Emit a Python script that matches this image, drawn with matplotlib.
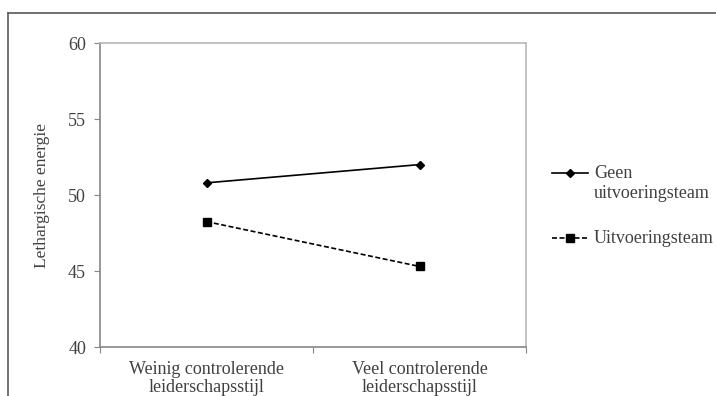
import matplotlib
matplotlib.use("Agg")
import matplotlib.pyplot as plt
from matplotlib.lines import Line2D

categories = ["Weinig controlerende\nleiderschapsstijl", "Veel controlerende\nleiderschapsstijl"]
geen_team = [50.8, 52.0]
met_team = [48.25, 45.3]
series_labels = ["Geen\nuitvoeringsteam", "Uitvoeringsteam"]
y_ticks = [40, 45, 50, 55, 60]

plt.rcParams["font.family"] = ["Liberation Serif", "DejaVu Serif"]
text_col = "#404040"
axis_col = "#868686"
W, H = 716, 396

fig = plt.figure(figsize=(7.16, 3.96), dpi=100)

# page frame (screenshot border)
fig.add_artist(Line2D([8 / W, 8 / W], [0, 1 - 13 / H], transform=fig.transFigure,
                      color="#595959", lw=1.2))
fig.add_artist(Line2D([8 / W, 1], [1 - 13 / H, 1 - 13 / H], transform=fig.transFigure,
                      color="#595959", lw=1.2))

ax = fig.add_axes([100 / W, 49 / H, 426 / W, 304 / H])
xs = [0.5, 1.5]
line_styles = [dict(color="black", lw=1.2, ls="-"),
               dict(color="black", lw=1.2, ls=(0, (3, 1.5)))]
marker_styles = [dict(marker="D", markersize=4.5), dict(marker="s", markersize=6)]
ax.plot(xs, geen_team, **line_styles[0], **marker_styles[0])
ax.plot(xs, met_team, **line_styles[1], **marker_styles[1])

ax.set_xlim(0, 2)
ax.set_ylim(40, 60)
ax.set_yticks(y_ticks)
ax.set_xticks([0, 1, 2])
ax.set_xticklabels([])
ax.set_xticks(xs, minor=True)
ax.set_xticklabels(categories, minor=True, fontsize=13, color=text_col, linespacing=1.05)
ax.tick_params(axis="x", which="minor", length=0, pad=10)
ax.tick_params(axis="x", which="major", length=4, color=axis_col, direction="out")
ax.tick_params(axis="y", length=4, color=axis_col, labelsize=13, labelcolor=text_col, pad=6)
for s in ["left", "bottom"]:
    ax.spines[s].set_color(axis_col)
    ax.spines[s].set_linewidth(1.2)
for s in ["top", "right"]:
    ax.spines[s].set_color("#b8b8b8")
    ax.spines[s].set_linewidth(1.2)

ax.set_ylabel("Lethargische energie", fontsize=12.5, color=text_col, labelpad=13)

# legend drawn by hand: handle lines up with the first text line
legend_y = [173, 238]
for lab, ls_, ms_, ly in zip(series_labels, line_styles, marker_styles, legend_y):
    yf = 1 - ly / H
    fig.add_artist(Line2D([552 / W, 588 / W], [yf, yf], transform=fig.transFigure, **ls_))
    fig.add_artist(Line2D([570 / W], [yf], transform=fig.transFigure,
                          color="black", lw=0, **ms_))
    for k, part in enumerate(lab.split("\n")):
        fig.text(594 / W, 1 - (ly + 5 + 20 * k) / H, part, fontsize=13, color=text_col,
                 va="baseline", ha="left")

fig.savefig("out.png", dpi=100)
